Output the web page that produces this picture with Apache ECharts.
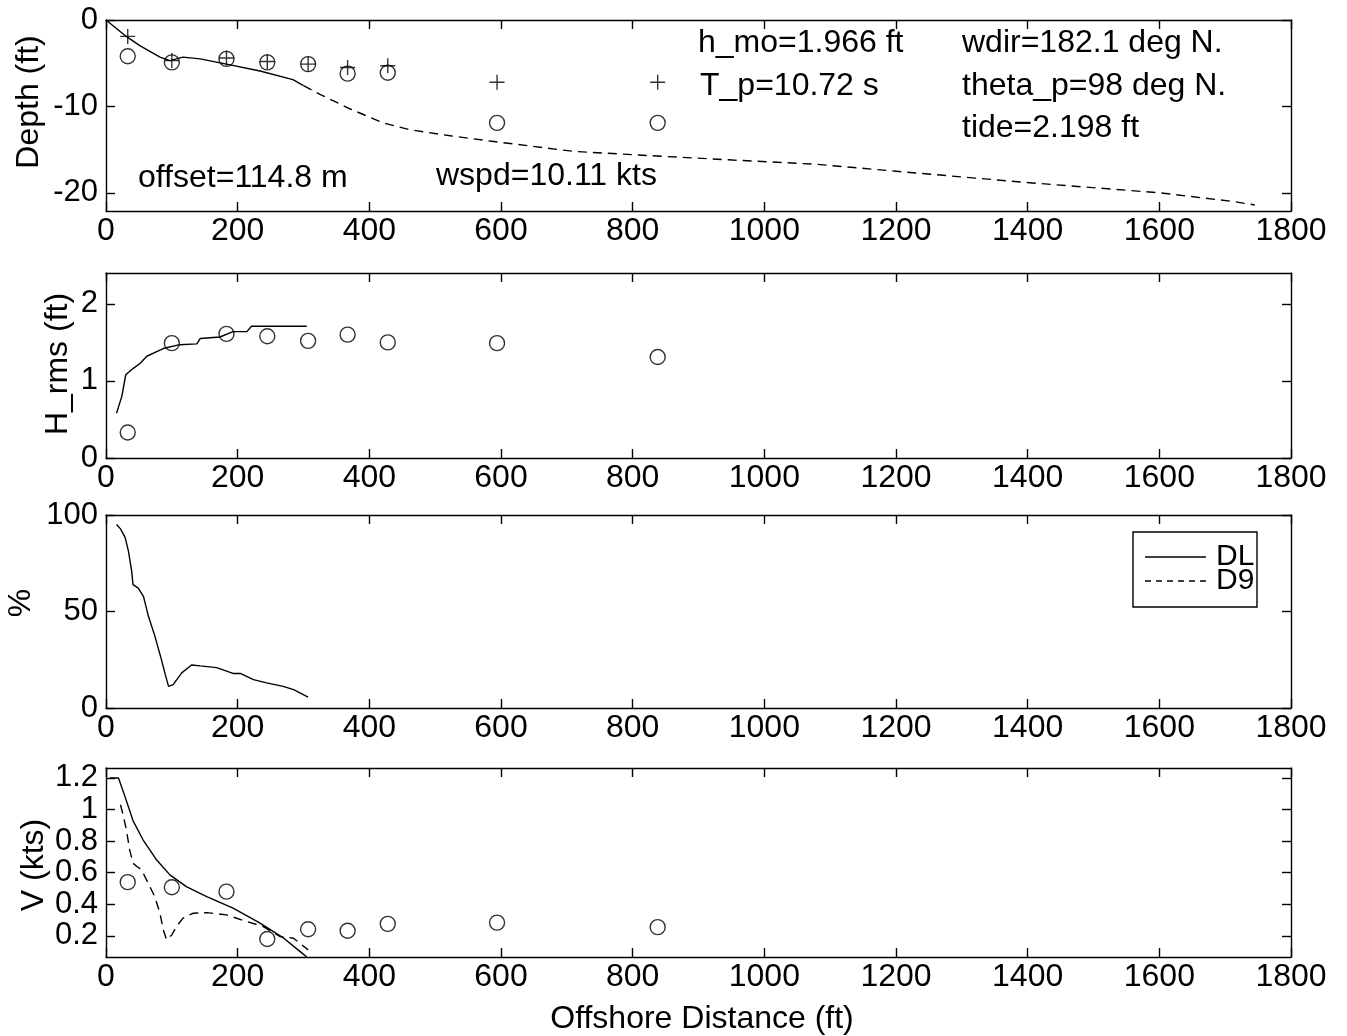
<!DOCTYPE html>
<html>
<head>
<meta charset="utf-8">
<script src="https://cdn.jsdelivr.net/npm/echarts@6/dist/echarts.min.js"></script>
<style>
  html, body { margin: 0; padding: 0; background: #fff; }
  #chart { width: 1347px; height: 1036px; }
</style>
</head>
<body>
<div id="chart"></div>
<script>
// gauge positions along the profile (ft)
var gaugeX = [33, 100, 183, 245, 307, 367, 428, 594, 838];

// panel 1: depth
var depthSolidX = [0, 29, 52, 82, 97, 117, 143, 183, 234, 284, 300];
var depthSolidY = [0, -1.8, -3.0, -4.3, -4.7, -4.3, -4.5, -5.1, -5.9, -6.9, -7.6];
var depthDashX = [300, 325, 371, 421, 462, 523, 583, 710, 852, 952, 1080, 1200, 1398, 1601, 1712, 1745];
var depthDashY = [-7.6, -8.6, -10.3, -11.9, -12.7, -13.4, -14.0, -15.2, -15.8, -16.2, -16.7, -17.5, -18.8, -20.0, -21.0, -21.4];
var depthPlusY = [-1.9, -4.7, -4.4, -4.8, -5.1, -5.5, -5.3, -7.2, -7.2];
var depthCircY = [-4.2, -4.9, -4.5, -4.9, -5.1, -6.2, -6.1, -11.9, -11.9];
var depthTicks = [-20, -10, 0];

// panel 2: H_rms
var hrmsX = [16, 24, 30, 41, 52, 62, 77, 87, 112, 138, 143, 173, 193, 214, 221, 305];
var hrmsY = [0.58, 0.80, 1.08, 1.16, 1.23, 1.32, 1.38, 1.42, 1.47, 1.48, 1.55, 1.57, 1.64, 1.64, 1.71, 1.71];
var hrmsObs = [0.33, 1.49, 1.61, 1.58, 1.52, 1.60, 1.50, 1.49, 1.31];
var hrmsTicks = [0, 1, 2];

// panel 3: %
var pctX = [16, 22, 29, 34, 39, 41, 49, 57, 64, 74, 84, 90, 95, 102, 115, 130, 143, 168, 193, 204, 224, 244, 269, 285, 307];
var pctY = [95.1, 92.8, 88.4, 81.4, 70.9, 63.9, 62.1, 57.7, 48.1, 37.5, 25.3, 17.4, 11.2, 12.1, 18.2, 22.3, 21.8, 20.9, 17.9, 17.9, 14.7, 13.0, 11.2, 9.5, 5.6];
var pctTicks = [0, 50, 100];

// panel 4: V
var vDLX = [6, 19, 29, 41, 56, 77, 97, 122, 153, 193, 234, 270, 295, 305];
var vDLY = [1.2, 1.2, 1.08, 0.93, 0.81, 0.68, 0.586, 0.512, 0.449, 0.375, 0.28, 0.185, 0.10, 0.066];
var vD9X = [22, 26, 31, 36, 41, 47, 54, 64, 74, 82, 87, 92, 100, 107, 117, 132, 153, 183, 214, 239, 264, 285, 307];
var vD9Y = [1.03, 0.966, 0.87, 0.744, 0.66, 0.639, 0.618, 0.534, 0.449, 0.343, 0.238, 0.175, 0.206, 0.259, 0.312, 0.343, 0.347, 0.333, 0.29, 0.259, 0.196, 0.185, 0.111];
var vObs = [0.54, 0.508, 0.48, 0.18, 0.242, 0.232, 0.276, 0.284, 0.255];
var vTicks = [0.2, 0.4, 0.6, 0.8, 1, 1.2];

var FONT = 'Liberation Sans, Arial, Helvetica, sans-serif';
var INK = '#000';
var FS = 32;

function zip(xs, ys) {
    return xs.map(function(x, i) { return [x, ys[i]]; });
}

// pixel boxes of the four panels
var panels = [
    {top: 20, height: 191, min: -22.1, max: 0, ticks: depthTicks},
    {top: 273, height: 185, min: 0, max: 2.4, ticks: hrmsTicks},
    {top: 515, height: 193, min: 0, max: 100, ticks: pctTicks},
    {top: 768, height: 189, min: 0.066, max: 1.263, ticks: vTicks}
];

var grids = [], xAxes = [], yAxes = [];
panels.forEach(function(p, i) {
    grids.push({left: 106, right: 56, top: p.top, height: p.height, containLabel: false});
    [false, true].forEach(function(isTop) {
        xAxes.push({
            type: 'value', gridIndex: i, min: 0, max: 1800, interval: 200,
            position: isTop ? 'top' : 'bottom',
            axisLine: {show: true, onZero: false, lineStyle: {color: INK, width: 1.4}},
            axisTick: {show: true, inside: true, length: 9, lineStyle: {color: INK, width: 1.4}},
            axisLabel: {show: !isTop, margin: 4, color: INK, fontSize: FS, fontFamily: FONT,
                showMinLabel: true, showMaxLabel: true, hideOverlap: false,
                formatter: function(v) { return String(v); }},
            splitLine: {show: false}
        });
    });
    [false, true].forEach(function(isRight) {
        yAxes.push({
            type: 'value', gridIndex: i, min: p.min, max: p.max,
            position: isRight ? 'right' : 'left',
            axisLine: {show: true, onZero: false, lineStyle: {color: INK, width: 1.4}},
            axisTick: {show: true, inside: true, length: 9, customValues: p.ticks,
                lineStyle: {color: INK, width: 1.4}},
            axisLabel: {show: !isRight, margin: 8, color: INK, fontSize: 31, fontFamily: FONT,
                customValues: p.ticks, formatter: function(v) { return String(v); }},
            splitLine: {show: false}
        });
    });
});

function line(idx, data, dashed) {
    return {
        type: 'line', xAxisIndex: idx * 2, yAxisIndex: idx * 2, data: data,
        symbol: 'none', smooth: false, silent: true,
        lineStyle: {color: INK, width: 1.4, type: dashed ? [9, 6] : 'solid'}
    };
}

function circles(idx, ys) {
    return {
        type: 'scatter', xAxisIndex: idx * 2, yAxisIndex: idx * 2, data: zip(gaugeX, ys),
        symbol: 'circle', symbolSize: 15, silent: true,
        itemStyle: {color: 'rgba(0,0,0,0)', borderColor: INK, borderWidth: 1.4}
    };
}

function pluses(idx, ys) {
    return {
        type: 'scatter', xAxisIndex: idx * 2, yAxisIndex: idx * 2, data: zip(gaugeX, ys),
        symbol: 'path://M5,0L5,10M0,5L10,5', symbolSize: 15, silent: true,
        itemStyle: {color: 'rgba(0,0,0,0)', borderColor: INK, borderWidth: 1.4}
    };
}

function txt(x, y, s, opts) {
    opts = opts || {};
    return {
        type: 'text', x: x, y: y, rotation: opts.rot || 0, silent: true,
        style: {text: s, fill: INK, fontSize: opts.size || FS, fontFamily: FONT,
            align: opts.align || 'left', verticalAlign: 'middle'}
    };
}

var chart = echarts.init(document.getElementById('chart'), null, {renderer: 'canvas'});
chart.setOption({
    backgroundColor: '#fff',
    animation: false,
    grid: grids,
    xAxis: xAxes,
    yAxis: yAxes,
    series: [
        line(0, zip(depthSolidX, depthSolidY), false),
        line(0, zip(depthDashX, depthDashY), true),
        pluses(0, depthPlusY),
        circles(0, depthCircY),
        line(1, zip(hrmsX, hrmsY), false),
        circles(1, hrmsObs),
        line(2, zip(pctX, pctY), false),
        line(3, zip(vDLX, vDLY), false),
        line(3, zip(vD9X, vD9Y), true),
        circles(3, vObs)
    ],
    graphic: [
        // annotations in the depth panel
        txt(138, 178, 'offset=114.8 m'),
        txt(436, 176, 'wspd=10.11 kts'),
        txt(698, 43, 'h_mo=1.966 ft'),
        txt(700, 86, 'T_p=10.72 s'),
        txt(962, 43, 'wdir=182.1 deg N.'),
        txt(962, 86, 'theta_p=98 deg N.'),
        txt(962, 128, 'tide=2.198 ft'),
        // axis titles
        txt(29, 102, 'Depth (ft)', {rot: Math.PI / 2, align: 'center'}),
        txt(58, 364, 'H_rms (ft)', {rot: Math.PI / 2, align: 'center'}),
        txt(21, 603, '%', {rot: Math.PI / 2, align: 'center'}),
        txt(34, 865, 'V (kts)', {rot: Math.PI / 2, align: 'center'}),
        txt(702, 1019, 'Offshore Distance (ft)', {align: 'center'}),
        // legend box for panel 3
        {type: 'rect', shape: {x: 1133, y: 532, width: 124, height: 75}, silent: true,
            style: {fill: '#fff', stroke: INK, lineWidth: 1.4}},
        {type: 'line', shape: {x1: 1145, y1: 557, x2: 1206, y2: 557}, silent: true,
            style: {stroke: INK, lineWidth: 1.4}},
        {type: 'line', shape: {x1: 1145, y1: 581, x2: 1206, y2: 581}, silent: true,
            style: {stroke: INK, lineWidth: 1.4, lineDash: [6, 5]}},
        txt(1216, 557, 'DL', {size: 30}),
        txt(1216, 581, 'D9', {size: 30})
    ]
});
</script>
</body>
</html>
